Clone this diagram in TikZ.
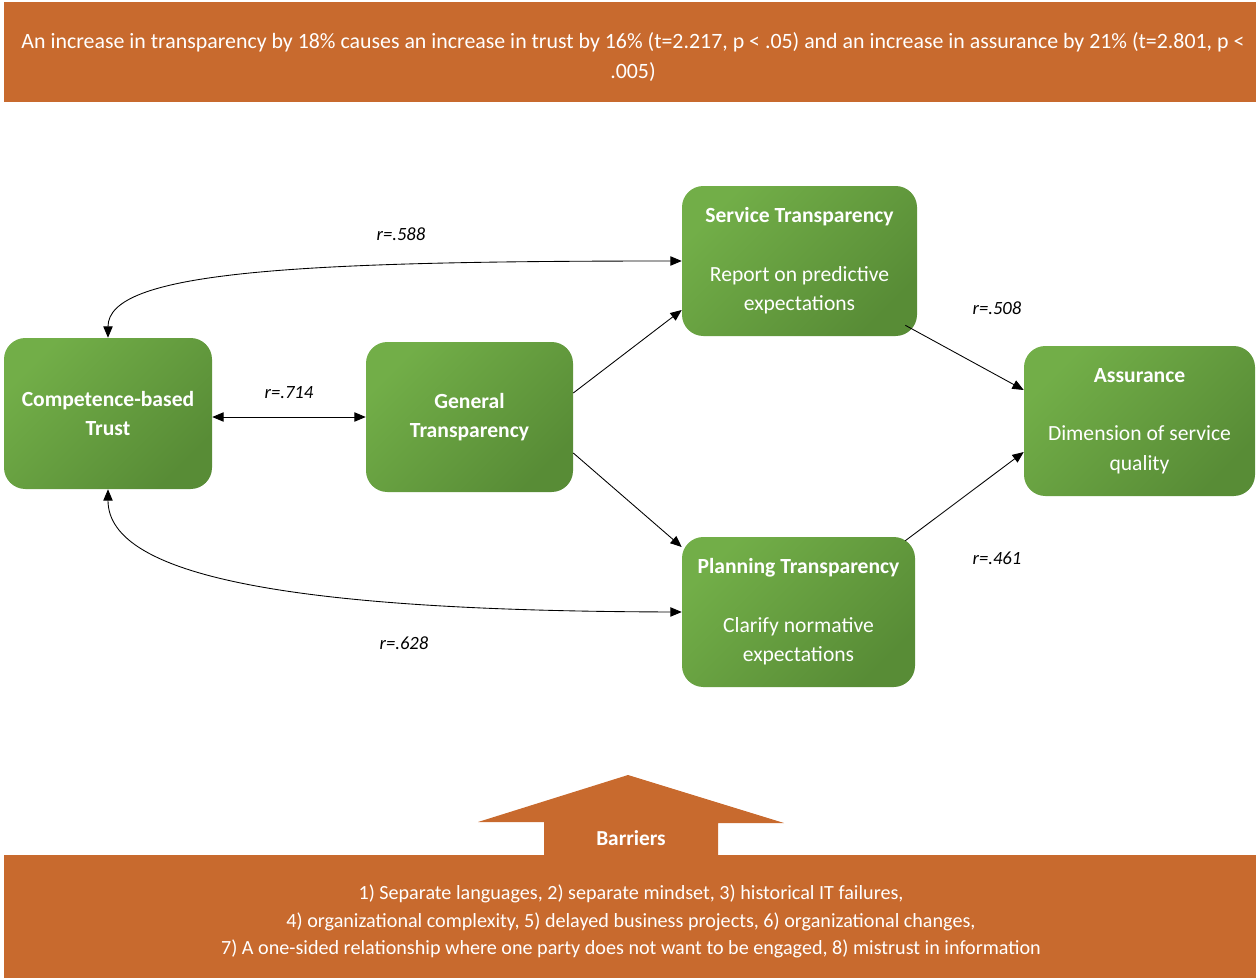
\documentclass[tikz,border=0pt]{standalone}
\usepackage{fontspec}
\setmainfont{Carlito}
\usetikzlibrary{arrows.meta,calc}
\definecolor{gA}{RGB}{114,174,72}
\definecolor{gB}{RGB}{88,140,54}
\definecolor{orng}{RGB}{200,106,46}
\tikzset{
  box/.style={draw=none, rounded corners=16pt, top color=gA, bottom color=gB, shading angle=45,
    text=white, align=center, font=\fontsize{16.2}{22}\selectfont, inner sep=0pt},
  band/.style={draw=none, fill=orng, inner sep=0pt},
  bandtext/.style={text=white, align=center, inner sep=0pt},
  conn/.style={-{Triangle[length=8.5pt,width=7pt]}, line width=0.65pt},
  biconn/.style={{Triangle[length=8.5pt,width=7pt]}-{Triangle[length=8.5pt,width=7pt]}, line width=0.65pt},
  lab/.style={font=\fontsize{14}{16}\selectfont\itshape},
}
\begin{document}
\begin{tikzpicture}[x=0.75pt,y=-0.75pt]
\useasboundingbox (0,0) rectangle (1256,978);
% top band
\node[band, minimum width=939pt, minimum height=75pt] (top) at (630,52) {};
\node[bandtext, font=\fontsize{16.4}{22.5}\selectfont] (toptext) at (633,57)
  {An increase in transparency by 18\% causes an increase in trust by 16\% (t=2.217, p < .05) and an increase in assurance by 21\% (t=2.801, p <\\ .005)};
% boxes
\node[box, minimum width=156pt, minimum height=113.25pt] (trust) at (108,413.5) {\textbf{Competence-based}\\\textbf{Trust}};
\node[box, minimum width=155.25pt, minimum height=112.5pt] (gen) at (469.5,417) {\textbf{General}\\\textbf{Transparency}};
\node[box, minimum width=176.25pt, minimum height=112.5pt] (serv) at (799.5,261) {\textbf{Service Transparency}\\[22pt]Report on predictive\\expectations};
\node[box, minimum width=174.75pt, minimum height=112.5pt] (plan) at (798.5,612) {\textbf{Planning Transparency}\\[22pt]Clarify normative\\expectations};
\node[box, minimum width=173.25pt, minimum height=112.5pt] (assur) at (1139.5,421) {\textbf{Assurance}\\[22pt]Dimension of service\\quality};
% connectors
\draw[biconn] (gen.west -| trust.east) -- (gen.west);
\draw[conn] ([yshift=18pt]gen.east) -- ([yshift=-36.75pt]serv.west);
\draw[conn] ([yshift=-27pt]gen.east) -- ([yshift=48.75pt]plan.west);
\draw[conn] ($(serv.south east)+(-12,-11)$) -- ([yshift=23.25pt]assur.west);
\draw[conn] ($(plan.north east)+(-10,4)$) -- ([yshift=-23.25pt]assur.west);
\draw[biconn] (trust.north) .. controls (108,272) and (290,261) .. (serv.west);
\draw[biconn] (trust.south) .. controls (108,578) and (300,611) .. (plan.west);
% labels
\node[lab] (l588) at (401,234) {r=.588};
\node[lab] (l714) at (289,393) {r=.714};
\node[lab] (l628) at (404,643) {r=.628};
\node[lab] (l508) at (997,308) {r=.508};
\node[lab] (l461) at (997,558) {r=.461};
% barriers
\fill[orng] (544,856) -- (544,822) -- (478,822) -- (628,775) -- (784,823) -- (718,823) -- (718,856) -- cycle;
\node[band, minimum width=939pt, minimum height=92.25pt] (bar) at (630,916.5) {};
\node[bandtext, font=\fontsize{15.1}{20.6}\selectfont] (bartext) at (631,921.5)
  {1) Separate languages, 2) separate mindset, 3) historical IT failures,\\
   4) organizational complexity, 5) delayed business projects, 6) organizational changes,\\
   7) A one-sided relationship where one party does not want to be engaged, 8) mistrust in information};
\node[text=white, font=\fontsize{16}{18}\selectfont\bfseries] (barl) at (631,838) {Barriers};
\end{tikzpicture}
\end{document}
